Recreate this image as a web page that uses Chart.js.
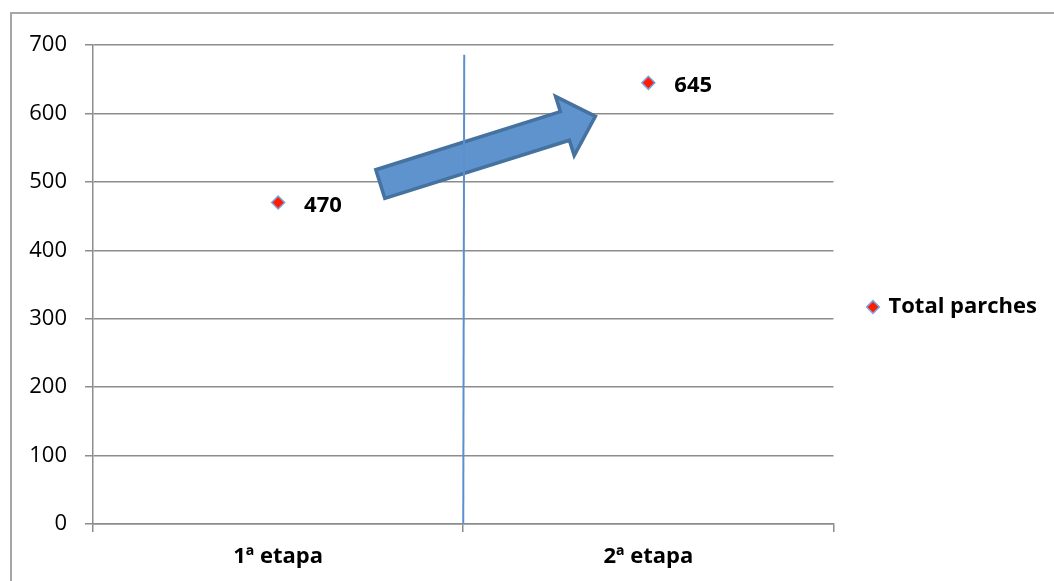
<!DOCTYPE html>
<html>
<head>
<meta charset="utf-8">
<style>
  html, body { margin: 0; padding: 0; overflow: hidden; background: #fff; }
  #marco { position: absolute; left: 10px; top: 12px; width: 1100px; height: 600px; border: 2px solid #a6a6a6; }
  #caja { position: absolute; left: 0; top: 0; width: 1100px; height: 567px; }
</style>
</head>
<body>
<div id="marco">
  <div id="caja"><canvas id="grafico"></canvas></div>
</div>

<script src="https://cdn.jsdelivr.net/npm/chart.js"></script>
<script>
  // datos
  const etapas = ['1ª etapa', '2ª etapa'];
  const totalParches = [470, 645];
  const marcasY = [0, 100, 200, 300, 400, 500, 600, 700];

  // flecha y línea divisoria en unidades de los ejes
  const flechaDesde = [0.276, 497];
  const flechaHasta = [0.857, 596];
  const divisoria = [0.5, 0, 686];

  const gris = '#8c8c8c';
  const fuente = "'Open Sans', sans-serif";

  const dibujos = {
    id: 'dibujos',
    afterDatasetsDraw(chart) {
      const ctx = chart.ctx;
      const x = chart.scales.x, y = chart.scales.y;

      // flecha
      const tx = x.getPixelForValue(flechaDesde[0]), ty = y.getPixelForValue(flechaDesde[1]);
      const px = x.getPixelForValue(flechaHasta[0]), py = y.getPixelForValue(flechaHasta[1]);
      const len = Math.hypot(px - tx, py - ty);
      const ux = (px - tx) / len, uy = (py - ty) / len;
      const nx = -uy, ny = ux;
      const sh = 15, hh = 31, hl = 32;
      const bx = px - ux * hl, by = py - uy * hl;
      ctx.save();
      ctx.beginPath();
      ctx.moveTo(tx + nx * sh, ty + ny * sh);
      ctx.lineTo(bx + nx * sh, by + ny * sh);
      ctx.lineTo(bx + nx * hh, by + ny * hh);
      ctx.lineTo(px, py);
      ctx.lineTo(bx - nx * hh, by - ny * hh);
      ctx.lineTo(bx - nx * sh, by - ny * sh);
      ctx.lineTo(tx - nx * sh, ty - ny * sh);
      ctx.closePath();
      ctx.fillStyle = '#5e93cd';
      ctx.fill();
      ctx.lineWidth = 3.5;
      ctx.strokeStyle = '#45729f';
      ctx.lineJoin = 'miter';
      ctx.stroke();

      // línea vertical
      ctx.beginPath();
      ctx.moveTo(x.getPixelForValue(divisoria[0]) + 1, y.getPixelForValue(divisoria[2]));
      ctx.lineTo(x.getPixelForValue(divisoria[0]), y.getPixelForValue(divisoria[1]));
      ctx.lineWidth = 2;
      ctx.strokeStyle = '#5b8fd0';
      ctx.stroke();

      // etiquetas de valor
      ctx.font = 'bold 22px ' + fuente;
      ctx.fillStyle = '#000';
      ctx.textAlign = 'left';
      ctx.textBaseline = 'middle';
      chart.getDatasetMeta(0).data.forEach((p, i) => {
        ctx.fillText(String(totalParches[i]), p.x + 26, p.y + 3);
      });
      ctx.restore();
    }
  };

  new Chart(document.getElementById('grafico'), {
    type: 'line',
    data: {
      labels: etapas,
      datasets: [{
        label: 'Total parches',
        data: totalParches,
        showLine: false,
        pointStyle: 'rectRot',
        pointRadius: 6.5,
        pointHoverRadius: 6.5,
        backgroundColor: '#ff1c00',
        borderColor: '#7ba4dc',
        borderWidth: 1.5
      }]
    },
    options: {
      responsive: true,
      maintainAspectRatio: false,
      animation: false,
      layout: { padding: { left: 10, top: 30, bottom: 11, right: 65 } },
      plugins: {
        tooltip: { enabled: false },
        legend: {
          position: 'right',
          labels: {
            usePointStyle: true,
            boxWidth: 9,
            boxHeight: 9,
            padding: 35,
            color: '#000',
            font: { family: fuente, size: 22, weight: 'bold' }
          }
        }
      },
      scales: {
        x: {
          offset: true,
          afterFit: s => { s.height = 46; },
          grid: { offset: true, drawOnChartArea: false, drawTicks: true, tickLength: 8, color: gris, lineWidth: 1.5 },
          border: { display: true, color: gris, width: 1.5 },
          ticks: { padding: 12, color: '#000', font: { family: fuente, size: 22, weight: 'bold' } }
        },
        y: {
          min: 0,
          max: 700,
          afterFit: s => { s.width = 71; },
          afterBuildTicks: s => { s.ticks = marcasY.map(v => ({ value: v })); },
          grid: { color: gris, lineWidth: 1.5, tickLength: 8 },
          border: { display: true, color: gris, width: 1.5 },
          ticks: { padding: 18, color: '#000', font: { family: fuente, size: 22 } }
        }
      }
    },
    plugins: [dibujos]
  });
</script>
</body>
</html>
